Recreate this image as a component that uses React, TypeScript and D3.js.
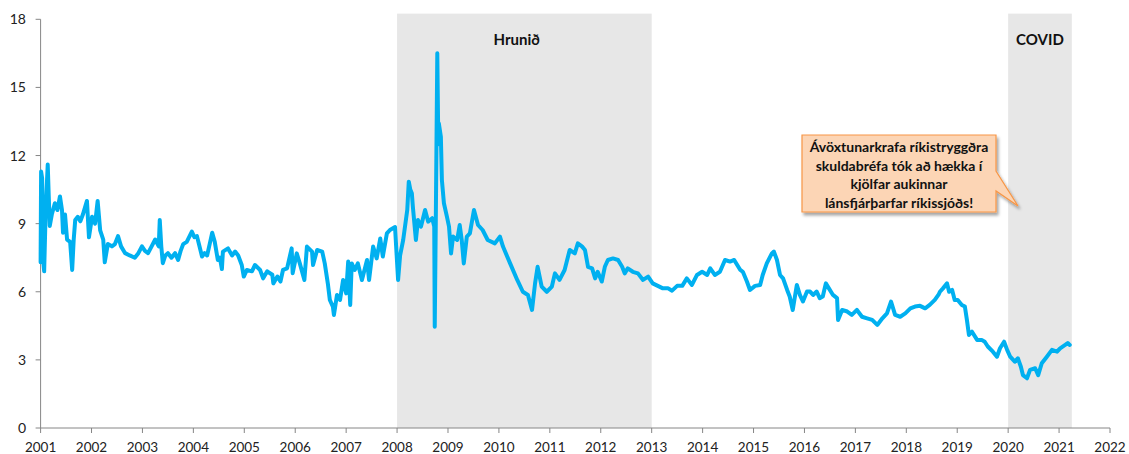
import React from "react";
import * as d3 from "d3";

// ávöxtunarkrafa, [ár, %] lesið af myndinni
const yield2001 = [
  [2001.0, 7.3], [2001.01, 11.3], [2001.03, 11.0], [2001.05, 7.4], [2001.07, 6.9], [2001.1, 9.6],
  [2001.14, 11.6], [2001.16, 10.2], [2001.18, 8.9], [2001.22, 9.4], [2001.28, 9.9], [2001.33, 9.6],
  [2001.38, 10.2], [2001.42, 9.6], [2001.44, 8.6], [2001.48, 9.4], [2001.52, 8.3], [2001.58, 8.2],
  [2001.62, 6.96], [2001.65, 8.3], [2001.68, 9.16], [2001.73, 9.3], [2001.78, 9.1], [2001.83, 9.4],
  [2001.91, 10.0], [2001.95, 8.4], [2002.01, 9.3], [2002.07, 9.0], [2002.12, 10.0], [2002.17, 8.7],
  [2002.23, 8.3], [2002.26, 7.3], [2002.32, 8.1], [2002.4, 8.0], [2002.46, 8.1], [2002.52, 8.45],
  [2002.58, 8.0], [2002.66, 7.7], [2002.75, 7.6], [2002.85, 7.5], [2002.92, 7.7], [2002.99, 8.0],
  [2003.05, 7.8], [2003.11, 7.7], [2003.18, 8.0], [2003.25, 8.3], [2003.32, 8.0], [2003.34, 9.16],
  [2003.37, 8.0], [2003.4, 7.26], [2003.45, 7.6], [2003.5, 7.7], [2003.57, 7.5], [2003.64, 7.7],
  [2003.7, 7.4], [2003.75, 7.8], [2003.8, 8.1], [2003.87, 8.2], [2003.97, 8.65], [2004.02, 8.4],
  [2004.07, 8.45], [2004.12, 8.0], [2004.17, 7.55], [2004.22, 7.7], [2004.27, 7.6], [2004.32, 8.1],
  [2004.37, 8.6], [2004.42, 8.2], [2004.48, 7.4],
];

const yield2004 = [
  [2004.52, 7.5], [2004.56, 7.0], [2004.58, 7.77], [2004.68, 7.91], [2004.76, 7.6], [2004.82, 7.77],
  [2004.88, 7.6], [2004.95, 7.18], [2004.99, 6.67], [2005.05, 6.96], [2005.15, 6.9], [2005.21, 7.18],
  [2005.31, 6.96], [2005.37, 6.59], [2005.45, 6.9], [2005.55, 6.75], [2005.57, 6.37], [2005.65, 6.67],
  [2005.71, 6.45], [2005.76, 6.96], [2005.84, 7.03], [2005.93, 7.91], [2005.95, 6.82], [2006.03, 7.69],
  [2006.09, 7.25], [2006.18, 6.52], [2006.23, 7.99], [2006.33, 7.77], [2006.35, 7.18], [2006.43, 7.84],
  [2006.53, 7.77], [2006.58, 7.25], [2006.64, 6.37], [2006.68, 5.64], [2006.74, 5.34], [2006.76, 4.98],
  [2006.82, 5.86], [2006.88, 5.64], [2006.94, 6.52], [2007.0, 5.93], [2007.04, 7.33], [2007.08, 5.42],
  [2007.11, 7.25], [2007.17, 6.96], [2007.23, 7.25], [2007.31, 6.52], [2007.41, 7.4], [2007.45, 6.52],
  [2007.53, 7.99], [2007.6, 7.47], [2007.67, 8.35], [2007.72, 7.55], [2007.8, 8.57], [2007.86, 8.72],
  [2007.96, 8.85], [2008.02, 6.52], [2008.06, 7.6],
];

const yield2008 = [
  [2008.12, 8.28], [2008.2, 9.6], [2008.23, 10.85], [2008.26, 10.5], [2008.29, 10.34], [2008.31, 9.75],
  [2008.37, 8.28], [2008.41, 9.16], [2008.47, 8.87], [2008.55, 9.6], [2008.61, 9.09], [2008.69, 9.24],
  [2008.73, 8.87], [2008.74, 4.46], [2008.76, 9.0], [2008.79, 16.5], [2008.81, 12.5], [2008.82, 13.42],
  [2008.86, 12.83], [2008.88, 10.93], [2008.92, 9.9], [2008.98, 9.3], [2009.02, 8.87], [2009.06, 7.69],
  [2009.1, 8.43], [2009.18, 8.28], [2009.23, 8.94], [2009.27, 8.28], [2009.31, 7.25], [2009.37, 8.43],
  [2009.43, 8.57], [2009.51, 9.6], [2009.59, 8.94], [2009.68, 8.72], [2009.78, 8.28], [2009.92, 8.13],
  [2010.02, 8.43], [2010.08, 7.99], [2010.22, 7.25], [2010.36, 6.52], [2010.47, 6.0], [2010.57, 5.86],
  [2010.65, 5.2], [2010.71, 6.37], [2010.76, 7.1], [2010.84, 6.23], [2010.94, 6.0], [2011.04, 6.23],
  [2011.1, 6.81], [2011.19, 6.52], [2011.29, 6.96], [2011.39, 7.84], [2011.49, 7.69], [2011.55, 8.13],
];

const yield2011 = [
  [2011.63, 8.0], [2011.69, 7.84], [2011.75, 7.1], [2011.83, 7.03], [2011.89, 6.59], [2011.94, 6.88],
  [2012.02, 6.45], [2012.08, 7.1], [2012.14, 7.4], [2012.24, 7.47], [2012.34, 7.4], [2012.42, 7.1],
  [2012.47, 6.81], [2012.53, 7.03], [2012.63, 6.88], [2012.73, 6.81], [2012.83, 6.52], [2012.93, 6.67],
  [2013.02, 6.37], [2013.12, 6.26], [2013.22, 6.15], [2013.32, 6.15], [2013.4, 6.05], [2013.5, 6.26],
  [2013.6, 6.26], [2013.69, 6.59], [2013.79, 6.3], [2013.89, 6.74], [2013.99, 6.88], [2014.09, 6.74],
  [2014.15, 7.03], [2014.24, 6.74], [2014.34, 6.88], [2014.44, 7.4], [2014.54, 7.33], [2014.62, 7.4],
  [2014.74, 6.96], [2014.79, 6.88], [2014.87, 6.45], [2014.93, 6.08], [2015.03, 6.26], [2015.13, 6.3],
];

const yield2015 = [
  [2015.18, 6.74], [2015.26, 7.25], [2015.36, 7.69], [2015.4, 7.77], [2015.46, 7.4], [2015.52, 6.74],
  [2015.58, 6.59], [2015.66, 6.08], [2015.71, 5.79], [2015.77, 5.2], [2015.85, 6.3], [2015.91, 5.86],
  [2015.97, 5.57], [2016.05, 6.01], [2016.11, 6.01], [2016.17, 5.86], [2016.24, 6.01], [2016.3, 5.72],
  [2016.36, 5.79], [2016.42, 6.37], [2016.48, 6.15], [2016.56, 5.86], [2016.64, 5.72], [2016.66, 4.76],
  [2016.74, 5.2], [2016.84, 5.13], [2016.93, 4.98], [2017.03, 5.2], [2017.13, 4.9], [2017.23, 4.83],
  [2017.33, 4.76], [2017.43, 4.54], [2017.53, 4.83], [2017.62, 5.05], [2017.7, 5.57], [2017.78, 4.98],
  [2017.88, 4.9], [2017.98, 5.05], [2018.08, 5.27], [2018.17, 5.35], [2018.27, 5.38], [2018.37, 5.27],
  [2018.46, 5.42], [2018.56, 5.64],
];

const yield2018 = [
  [2018.64, 5.9], [2018.66, 6.0], [2018.72, 6.15], [2018.8, 6.37], [2018.84, 6.0], [2018.9, 6.08],
  [2018.95, 5.64], [2019.01, 5.64], [2019.09, 5.42], [2019.15, 5.35], [2019.19, 4.76], [2019.23, 4.1],
  [2019.29, 4.24], [2019.39, 3.88], [2019.48, 3.88], [2019.54, 3.8], [2019.6, 3.59], [2019.7, 3.36],
  [2019.78, 3.14], [2019.84, 3.51], [2019.92, 3.8], [2019.98, 3.44], [2020.04, 3.14], [2020.13, 2.92],
  [2020.19, 3.07], [2020.25, 2.7], [2020.29, 2.33], [2020.37, 2.19], [2020.43, 2.56], [2020.53, 2.63],
  [2020.59, 2.33], [2020.66, 2.85], [2020.76, 3.14], [2020.86, 3.44], [2020.96, 3.36], [2021.02, 3.51],
  [2021.12, 3.66], [2021.17, 3.74], [2021.21, 3.66],
];

const yTicks = [0, 3, 6, 9, 12, 15, 18];
const xTicks = d3.range(2001, 2023);

const periods = [
  { label: "Hrunið", from: 2008, to: 2013, labelAt: 2010.35 },
  { label: "COVID", from: 2020, to: 2021.25, labelAt: 2020.625 },
];

const noteLines = [
  "Ávöxtunarkrafa ríkistryggðra",
  "skuldabréfa tók að hækka í",
  "kjölfar aukinnar",
  "lánsfjárþarfar ríkissjóðs!",
];

const W = 1129;
const H = 454;
const font = "Lato, 'Open Sans', sans-serif";

export default function App() {
  const data = [...yield2001, ...yield2004, ...yield2008, ...yield2011, ...yield2015, ...yield2018];

  const x = d3.scaleLinear().domain([2001, 2022]).range([40.6, 1110]);
  const y = d3.scaleLinear().domain([0, 18]).range([428, 19.3]);

  const line = d3
    .line<number[]>()
    .x((d) => x(d[0]))
    .y((d) => y(d[1]));

  // callout box
  const bx = 802, by = 135, bw = 194, bh = 77;
  const tipX = 1018, tipY = 206;
  const calloutPath = [
    `M${bx},${by}`,
    `H${bx + bw}`,
    `V${by + 36}`,
    `L${tipX},${tipY}`,
    `L${bx + bw},${by + 56}`,
    `V${by + bh}`,
    `H${bx}`,
    "Z",
  ].join(" ");

  return (
    <svg
      width={W}
      height={H}
      style={{ position: "absolute", left: 0, top: 0, background: "#fff" }}
      fontFamily={font}
    >
      <defs>
        <filter id="shadow" x="-10%" y="-10%" width="130%" height="140%">
          <feDropShadow dx="2" dy="3" stdDeviation="1.5" floodColor="#000" floodOpacity="0.35" />
        </filter>
      </defs>

      {/* shaded periods */}
      {periods.map((p) => (
        <g key={p.label}>
          <rect
            x={x(p.from)}
            y={y(18.25)}
            width={x(p.to) - x(p.from)}
            height={y(0) - y(18.25)}
            fill="#e7e7e7"
          />
          <text x={x(p.labelAt)} y={45} textAnchor="middle" fontWeight="bold" fontSize={15} fill="#111">
            {p.label}
          </text>
        </g>
      ))}

      {/* axes */}
      <line x1={x(2001)} x2={x(2001)} y1={y(18)} y2={y(0)} stroke="#868686" />
      <line x1={x(2001)} x2={x(2022)} y1={y(0)} y2={y(0)} stroke="#868686" />
      {yTicks.map((t) => (
        <g key={"y" + t}>
          <line x1={x(2001) - 5} x2={x(2001)} y1={y(t)} y2={y(t)} stroke="#868686" />
          <text x={26} y={y(t) + 5} textAnchor="end" fontSize={14} fill="#222">
            {t}
          </text>
        </g>
      ))}
      {xTicks.map((t) => (
        <g key={"x" + t}>
          <line x1={x(t)} x2={x(t)} y1={y(0)} y2={y(0) + 5} stroke="#868686" />
          <text x={x(t)} y={452} textAnchor="middle" fontSize={13.5} fill="#222">
            {t}
          </text>
        </g>
      ))}

      {/* series */}
      <path
        d={line(data) ?? ""}
        fill="none"
        stroke="#00b0f0"
        strokeWidth={4}
        strokeLinejoin="round"
        strokeLinecap="round"
      />

      {/* callout */}
      <path d={calloutPath} fill="#fcd5b5" stroke="#f79646" strokeWidth={1.2} filter="url(#shadow)" />
      {noteLines.map((s, i) => (
        <text
          key={s}
          x={bx + bw / 2}
          y={by + 17 + i * 18.7}
          textAnchor="middle"
          fontWeight="bold"
          fontSize={14}
          fill="#111"
        >
          {s}
        </text>
      ))}
    </svg>
  );
}
